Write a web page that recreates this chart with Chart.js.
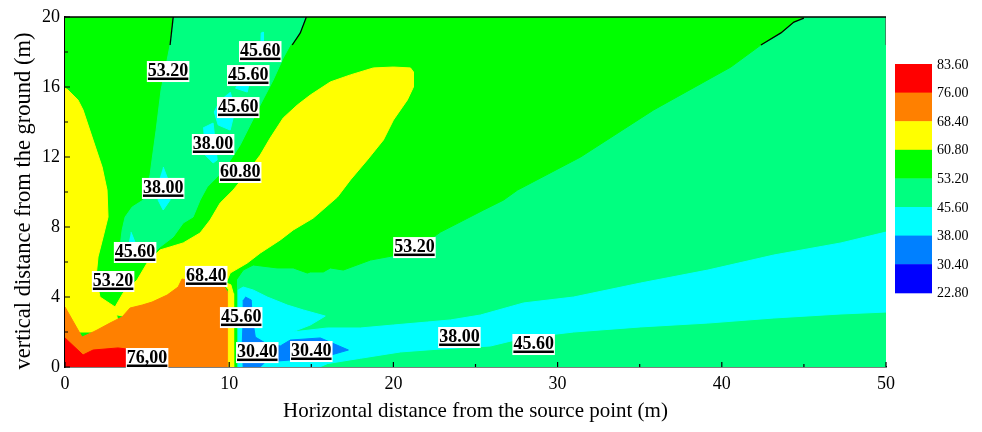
<!DOCTYPE html>
<html lang="en">
<head>
<meta charset="UTF-8">
<title>Noise contour</title>
<script src="https://cdn.jsdelivr.net/npm/chart.js"></script>
<style>
  html, body { margin: 0; padding: 0; background: #fff; }
  #wrap { width: 982px; height: 432px; }
</style>
</head>
<body>
<div id="wrap"><canvas id="contour" width="982" height="432"></canvas></div>
<script>
// contour bands (x in m, y in m), painted back to front
const baseZone = [[0,0],[50,0],[50,20],[0,20]];
const greenZone = [[0,20],[45.0,20],[44.39,19.71],[43.6,19.09],[42.38,18.4],[40.55,17.14],[35.85,14.69],[31.4,12.0],
  [27.56,10.11],[26.71,9.54],[25.49,8.97],[22.87,7.71],[21.65,6.91],[20.24,6.4],[18.6,6.11],[16.95,5.54],[16.16,5.66],
  [15.73,5.43],[14.94,5.43],[14.76,5.37],[13.9,5.66],[12.93,5.66],[11.46,5.83],[10.85,5.54],[10.43,4.97],[10.43,0],[0,0]];
const wedgeZone = [[6.59,20],[6.4,18.4],[6.22,17.54],[5.85,15.83],[5.55,13.54],[5.3,11.83],[5.18,10.97],[4.76,9.54],
  [4.09,9.14],[3.66,8.57],[3.48,7.83],[3.35,6.86],[3.54,6.23],[3.84,6.11],[4.57,6.0],[5.18,6.29],[5.79,6.86],[6.59,7.43],
  [7.2,8.23],[7.8,8.57],[8.23,9.54],[8.66,10.29],[9.27,10.86],[9.88,11.54],[10.67,12.69],[11.28,13.83],[11.89,14.97],
  [12.68,16.4],[13.29,17.66],[13.72,18.4],[14.33,19.09],[14.7,20]];
const cyanSpots = [
  [[11.93,18.5],[11.95,19.09],[12.07,19.14],[12.09,18.5]],
  [[10.49,16.11],[11.28,16.51],[11.1,15.71],[10.37,15.94]],
  [[10.06,15.71],[10.3,14.97],[10.24,14.23],[10.06,13.54],[9.33,13.83],[9.09,14.57],[9.45,15.26]],
  [[8.41,13.66],[9.02,13.94],[9.27,11.83],[9.02,11.66],[8.54,12.11]],
  [[5.98,11.43],[6.28,10.69],[6.4,9.54],[5.98,8.97],[5.67,9.54],[5.73,10.69]],
  [[4.02,7.71],[4.33,6.97],[3.84,6.91]]
];
const yellowLeft = [[0,15.94],[0.18,15.83],[0.79,15.26],[1.1,14.69],[1.71,12.97],[2.26,11.43],[2.56,10.11],[2.62,8.57],
  [2.32,7.43],[2.01,6.29],[1.89,5.14],[2.13,4.0],[3.05,3.43],[3.35,2.0],[0,2.0]];
const yellowPlume = [[3.05,3.43],[3.54,4.23],[4.39,4.97],[5.0,5.94],[5.79,6.69],[6.4,6.86],[7.2,7.09],[8.23,7.66],
  [8.84,8.4],[9.45,9.37],[10.24,10.11],[10.98,10.97],[11.89,12.11],[12.5,13.09],[13.29,14.23],[14.15,14.97],[14.94,15.54],
  [16.16,16.29],[17.38,16.69],[18.78,17.09],[20.0,17.14],[21.04,17.09],[21.22,16.86],[21.22,16.0],[20.85,15.26],
  [20.0,14.11],[19.39,12.97],[18.41,11.83],[17.38,10.69],[16.59,9.71],[15.12,8.51],[13.9,7.83],[13.11,7.26],[11.89,6.51],
  [11.1,5.94],[10.06,5.37],[9.76,4.69],[8.23,3.0],[5.18,2.6],[3.05,3.0]];
const orangeZone = [[0,3.43],[1.04,1.71],[1.71,2.0],[1.95,2.11],[2.74,2.51],[3.48,2.86],[3.96,3.37],[4.7,3.54],[5.3,3.71],
  [6.22,4.11],[6.89,4.57],[7.13,5.03],[7.62,4.91],[9.02,4.8],[9.63,4.69],[9.94,4.23],[10.06,3.43],[10.06,0],[0,0]];
const redZone = [[0,1.66],[1.1,0.69],[1.71,0.97],[3.23,1.09],[3.72,1.03],[3.72,0],[0,0]];
const yellowStrip = [[9.5,4.9],[10.1,4.7],[10.25,4.2],[10.27,3.4],[10.27,0],[9.95,0],[9.95,4.4]];
const cyanZone = [[10.55,0],[10.55,4.4],[10.85,4.57],[11.46,4.4],[12.32,4.0],[13.54,3.54],[14.51,3.26],[15.85,2.91],
  [14.94,2.4],[13.84,2.0],[15.98,2.23],[17.99,2.23],[20.0,2.4],[22.07,2.57],[23.48,2.69],[25.3,2.97],[27.93,3.66],
  [30.98,4.0],[35.06,4.8],[39.15,5.54],[43.17,6.4],[47.26,7.09],[50,7.71],[50,3.14],[47.26,3.03],[43.17,2.8],[39.15,2.51],
  [35.06,2.29],[30.98,2.0],[27.93,1.66],[25.91,1.2],[22.87,1.03],[20.43,0.86],[18.0,0.5],[16.0,0.2],[15.5,0]];
const blueZone = [[10.98,4.0],[11.34,3.83],[11.4,2.86],[11.59,1.71],[12.2,1.37],[13.11,1.2],[13.72,1.54],[15.55,1.66],
  [17.26,0.97],[15.55,0.51],[13.72,0.4],[12.2,0.29],[11.89,0],[10.85,0],[10.79,1.26],[10.85,2.69],[10.85,3.83]];

// black contour lines near the top edge
const contourLines = [
  [[6.59,20],[6.4,18.4]],
  [[14.7,20],[14.33,19.09],[13.84,18.4]],
  [[45.0,19.94],[44.39,19.71],[43.6,19.09],[42.38,18.4]],
  [[50,20],[50,18.4]]
];

// in-plot level labels
const labelText = ['45.60','53.20','45.60','45.60','38.00','60.80','38.00','45.60','53.20','68.40','45.60','76,00','30.40','30.40','53.20','38.00','45.60'];
const labelX = [11.89,6.28,11.16,10.55,9.02,10.67,5.98,4.27,2.93,8.6,10.73,5.0,11.71,15.0,21.28,24.02,28.54];
const labelY = [18.11,16.97,16.74,14.91,12.8,11.2,10.29,6.63,4.97,5.26,2.91,0.57,0.91,0.97,6.91,1.77,1.37];

// colour scale
const levelLabels = ['83.60','76.00','68.40','60.80','53.20','45.60','38.00','30.40','22.80'];
const levelColors = ['#FF0000','#FF8000','#FFFF00','#00FF00','#00FF80','#00FFFF','#0080FF','#0000FF'];

const RED = '#FF0000', ORANGE = '#FF8000', YELLOW = '#FFFF00', GREEN = '#00FF00',
      SPRING = '#00FF80', CYAN = '#00FFFF', BLUE = '#0080FF';
const FONT = '"Liberation Serif", "Times New Roman", serif';
const Y_TITLE = 'vertical distance from the ground (m)';

function toPts(arr) { return arr.map(p => ({ x: p[0], y: p[1] })); }

function band(pts, color) {
  return { data: toPts(pts), showLine: true, fill: 'shape', backgroundColor: color,
           borderColor: color, borderWidth: 1, pointRadius: 0 };
}

const layers = [
  band(baseZone, SPRING),
  band(greenZone, GREEN),
  band(wedgeZone, SPRING),
  ...cyanSpots.map(s => band(s, CYAN)),
  band(yellowLeft, YELLOW),
  band(yellowPlume, YELLOW),
  band(orangeZone, ORANGE),
  band(redZone, RED),
  band(yellowStrip, YELLOW),
  band(cyanZone, CYAN),
  band(blueZone, BLUE),
  ...contourLines.map((l, i) => ({ data: toPts(l), showLine: true, fill: false, pointRadius: 0,
      borderColor: i === 3 ? '#555' : '#000', borderWidth: 1.3 }))
];
// first layer painted first
layers.forEach((d, i) => { d.order = layers.length - i; });

const overlay = {
  id: 'overlay',
  afterDraw(chart) {
    const { ctx, chartArea: a, scales: { x, y } } = chart;
    ctx.save();
    // top frame line
    ctx.strokeStyle = '#000';
    ctx.lineWidth = 1.5;
    ctx.beginPath();
    ctx.moveTo(a.left, a.top);
    ctx.lineTo(a.right, a.top);
    ctx.stroke();

    // inward ticks
    ctx.lineWidth = 1.2;
    ctx.beginPath();
    for (let v = 0; v <= 50; v += 5) {
      const px = x.getPixelForValue(v);
      const len = v % 10 === 0 ? 5 : 3;
      ctx.moveTo(px, a.bottom);
      ctx.lineTo(px, a.bottom - len);
    }
    for (let v = 0; v <= 20; v += 2) {
      const py = y.getPixelForValue(v);
      const len = v % 4 === 0 ? 5 : 3;
      ctx.moveTo(a.left, py);
      ctx.lineTo(a.left + len, py);
    }
    ctx.stroke();

    // level labels
    ctx.font = 'bold 18px ' + FONT;
    ctx.textAlign = 'center';
    ctx.textBaseline = 'alphabetic';
    labelText.forEach((t, i) => {
      const px = x.getPixelForValue(labelX[i]);
      const py = y.getPixelForValue(labelY[i]);
      const w = ctx.measureText(t).width;
      ctx.fillStyle = '#fff';
      ctx.fillRect(px - w / 2 - 1, py - 9, w + 2, 21);
      ctx.fillStyle = '#000';
      ctx.fillText(t, px, py + 6);
      ctx.fillRect(px - w / 2, py + 7.5, w, 2.5);
    });

    // y axis title
    ctx.save();
    ctx.translate(24, 201);
    ctx.rotate(-Math.PI / 2);
    ctx.font = '22.5px ' + FONT;
    ctx.textAlign = 'center';
    ctx.textBaseline = 'middle';
    ctx.fillStyle = '#000';
    ctx.fillText(Y_TITLE, 0, 0);
    ctx.restore();

    // colour bar
    const barX = 895, barW = 37, barTop = 64, bandH = 28.6;
    levelColors.forEach((c, i) => {
      ctx.fillStyle = c;
      ctx.fillRect(barX, barTop + i * bandH, barW, bandH + 0.5);
    });
    ctx.fillStyle = '#000';
    ctx.font = '14px ' + FONT;
    ctx.textAlign = 'left';
    ctx.textBaseline = 'middle';
    levelLabels.forEach((t, i) => {
      ctx.fillText(t, barX + barW + 5, barTop + i * bandH + 1);
    });
    ctx.restore();
  }
};

new Chart(document.getElementById('contour'), {
  type: 'scatter',
  data: { datasets: layers },
  options: {
    responsive: false,
    animation: false,
    events: [],
    layout: { padding: { left: 0, right: 96, top: 17, bottom: 0 } },
    plugins: { legend: { display: false }, tooltip: { enabled: false } },
    scales: {
      x: {
        type: 'linear', min: 0, max: 50, z: 1,
        afterFit: s => { s.height = 65; },
        grid: { display: false, drawTicks: false },
        border: { display: true, color: '#000', width: 1.5 },
        ticks: { stepSize: 10, padding: 6, color: '#000', font: { family: FONT, size: 18 } },
        title: { display: true, text: 'Horizontal distance from the source point (m)', color: '#000',
                 font: { family: FONT, size: 21 }, padding: { top: 0, bottom: 8 } }
      },
      y: {
        type: 'linear', min: 0, max: 20, z: 1,
        afterFit: s => { s.width = 65; },
        grid: { display: false, drawTicks: false },
        border: { display: true, color: '#000', width: 1.5 },
        ticks: { stepSize: 4, padding: 5, color: '#000', font: { family: FONT, size: 18 } },
        title: { display: false }
      }
    }
  },
  plugins: [overlay]
});
</script>
</body>
</html>
